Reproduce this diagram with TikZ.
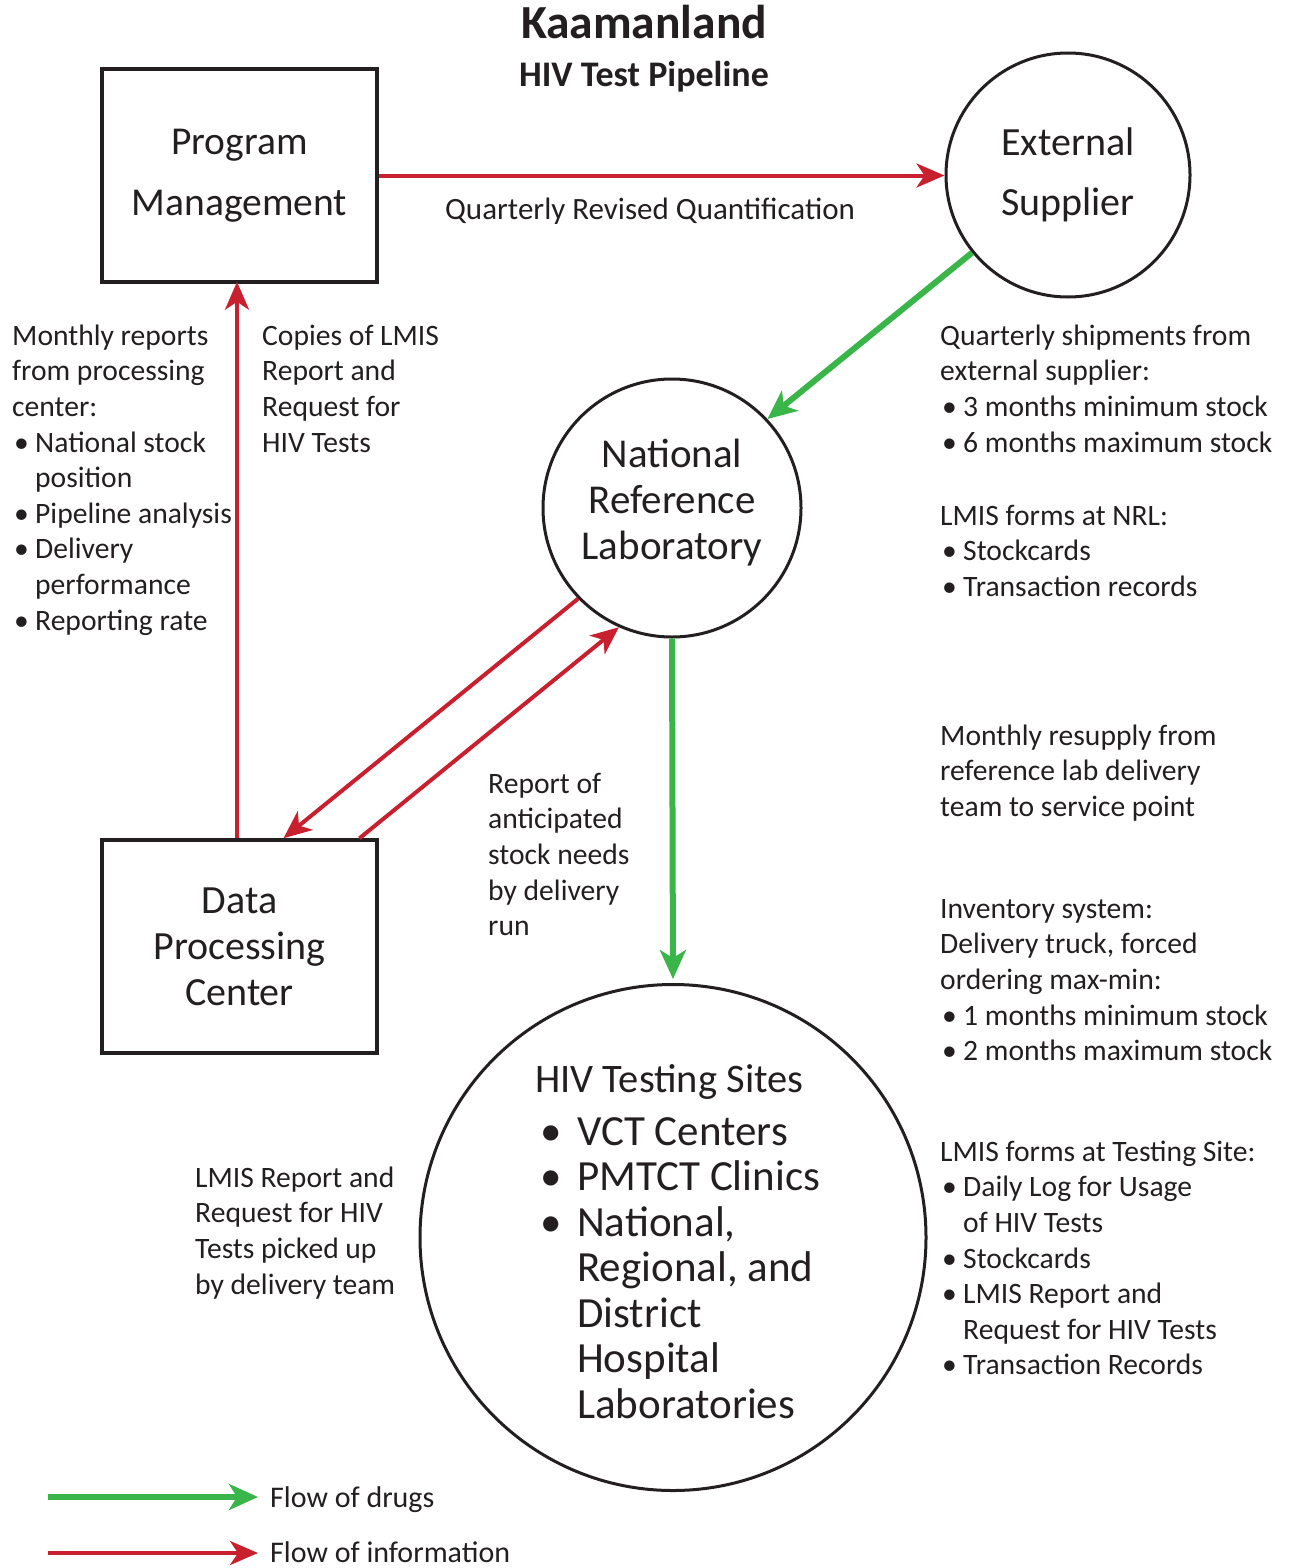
\documentclass[tikz,border=0pt]{standalone}
\usepackage{fontspec}
\setmainfont{Carlito}
\usetikzlibrary{arrows.meta}
\definecolor{infored}{RGB}{200,32,46}
\definecolor{druggreen}{RGB}{57,181,74}
\definecolor{ink}{RGB}{35,31,32}
\newcommand\bodyfont{\fontsize{29.6}{35.6}\selectfont}
\newcommand\bul{\makebox[23pt][l]{\hspace{2pt}\textbullet}}
\newcommand\ind{\hspace*{23pt}}
\newcommand\bigbul{\hspace*{5pt}\makebox[37pt][l]{\textbullet}}
\newcommand\bigind{\hspace*{42pt}}
\tikzset{
  txt/.style={anchor=north west, inner sep=0pt, align=left, font=\bodyfont, text=ink},
  boxnode/.style={draw=ink, line width=3.5pt, rectangle, minimum width=275pt, minimum height=213pt, inner sep=0pt, align=center, text=ink},
  circnode/.style={draw=ink, line width=3pt, circle, inner sep=0pt, align=center, text=ink},
  info/.style={draw=infored, line width=4pt, -{Stealth[length=28pt,width=24pt,inset=8pt]}},
  drug/.style={draw=druggreen, line width=6pt, -{Stealth[length=29pt,width=26pt,inset=8pt]}},
}
\begin{document}
\begin{tikzpicture}[x=1pt,y=-1pt]
\useasboundingbox (0,0) rectangle (1294,1568);
% title
\node[anchor=base, inner sep=0pt, text=ink, font=\fontsize{47.5}{50}\selectfont\bfseries] (title) at (644,39) {Kaamanland};
\node[anchor=base, inner sep=0pt, text=ink, font=\fontsize{36}{40}\selectfont\bfseries] (subtitle) at (644,87) {HIV Test Pipeline};
% main nodes
\node[boxnode, font=\fontsize{39.5}{61}\selectfont] (pm) at (239.5,175.5) {Program\\Management};
\node[circnode, minimum size=244pt, font=\fontsize{40}{60}\selectfont] (es) at (1068,175) {External\\Supplier};
\node[circnode, minimum size=258pt, font=\fontsize{41}{46}\selectfont] (nrl) at (672,508) {National\\Reference\\Laboratory\rule[-18pt]{0pt}{0pt}};
\node[boxnode, font=\fontsize{40}{46}\selectfont] (dpc) at (239.5,946.5) {Data\\Processing\\Center};
\node[circnode, minimum size=506pt] (hts) at (673,1237.5) {};
\node[anchor=base west, inner sep=0pt, text=ink, font=\fontsize{40.5}{46}\selectfont] (htshead) at (535,1092) {HIV Testing Sites};
\node[txt, font=\fontsize{43}{45.5}\selectfont] (htslist) at (535,1113.2) {\strut\bigbul VCT Centers\\
\bigbul PMTCT Clinics\\
\bigbul National,\\
\bigind Regional, and\\
\bigind District\\
\bigind Hospital\\
\bigind Laboratories};
% connectors
\draw[info] (pm.east) -- (pm.east -| es.west);
\node[anchor=base, inner sep=0pt, text=ink, font=\fontsize{31}{36}\selectfont] (qrq) at (650,219) {Quarterly Revised Quantification};
\draw[drug] (es.219) -- (nrl.43.5);
\draw[drug, shorten >=4pt] (nrl.south) -- (hts.north);
\draw[info, shorten >=-2pt] ([xshift=-2.5pt]dpc.north) -- ([xshift=-2.5pt]pm.south);
\draw[info] (nrl.224) -- ([xshift=44pt]dpc.north);
\draw[info] ([xshift=120pt]dpc.north) -- (nrl.246);
% texts
\node[txt] (monthly) at (12,320.1) {\strut Monthly reports\\
from processing\\
center:\\
\bul National stock\\
\ind position\\
\bul Pipeline analysis\\
\bul Delivery\\
\ind performance\\
\bul Reporting rate};
\node[txt] (copies) at (262,320.1) {\strut Copies of LMIS\\
Report and\\
Request for\\
HIV Tests};
\node[txt] (shipments) at (940,320.1) {\strut Quarterly shipments from\\
external supplier:\\
\bul 3 months minimum stock\\
\bul 6 months maximum stock};
\node[txt] (nrlforms) at (940,500.1) {\strut LMIS forms at NRL:\\
\bul Stockcards\\
\bul Transaction records};
\node[txt] (resupply) at (940,720.1) {\strut Monthly resupply from\\
reference lab delivery\\
team to service point};
\node[txt] (inventory) at (940,893.1) {\strut Inventory system:\\
Delivery truck, forced\\
ordering max-min:\\
\bul 1 months minimum stock\\
\bul 2 months maximum stock};
\node[txt] (siteforms) at (940,1136.1) {\strut LMIS forms at Testing Site:\\
\bul Daily Log for Usage\\
\ind of HIV Tests\\
\bul Stockcards\\
\bul LMIS Report and\\
\ind Request for HIV Tests\\
\bul Transaction Records};
\node[txt] (anticipated) at (488,768.1) {\strut Report of\\
anticipated\\
stock needs\\
by delivery\\
run};
\node[txt] (pickedup) at (195,1162.1) {\strut LMIS Report and\\
Request for HIV\\
Tests picked up\\
by delivery team};
% legend
\coordinate (g1) at (48,1497);
\coordinate (g2) at (258,1497);
\coordinate (r1) at (48,1553);
\coordinate (r2) at (258,1553);
\draw[drug] (g1) -- (g2);
\draw[info] (r1) -- (r2);
\node[anchor=base west, inner sep=0pt, text=ink, font=\fontsize{30}{36}\selectfont] (legdrug) at (270,1507) {Flow of drugs};
\node[anchor=base west, inner sep=0pt, text=ink, font=\fontsize{30}{36}\selectfont] (leginfo) at (270,1562) {Flow of information};
\end{tikzpicture}
\end{document}
